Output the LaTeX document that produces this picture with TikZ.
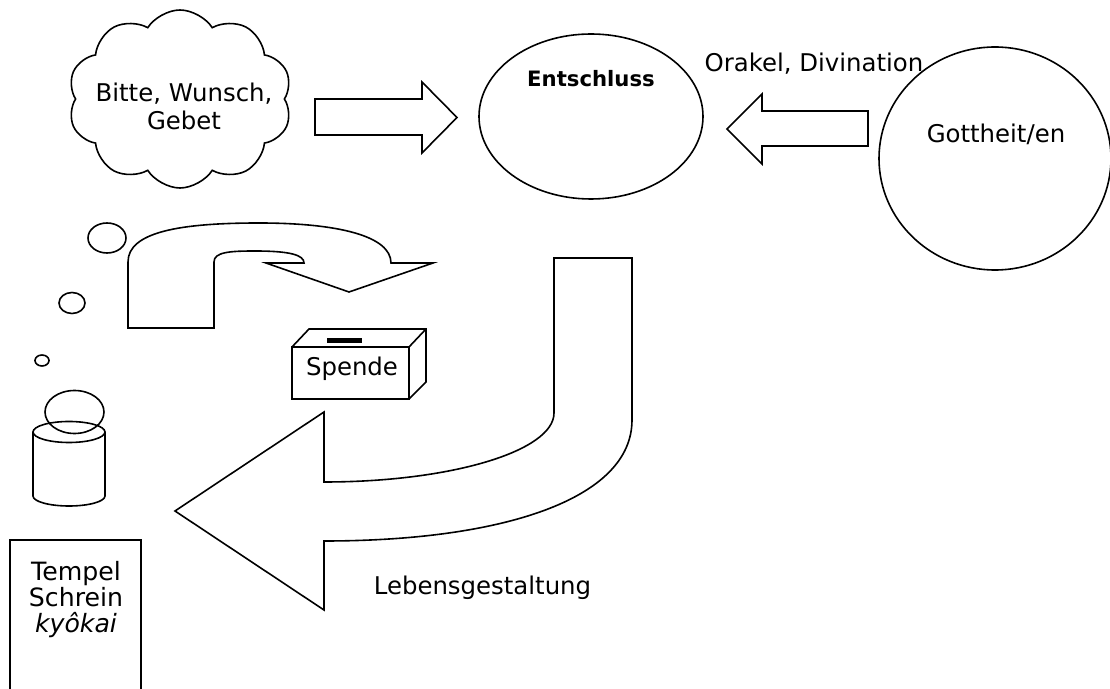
\documentclass[tikz,border=0pt]{standalone}
\usepackage{fontspec}
\setmainfont{DejaVu Sans}
\usepackage{tikz}
\usetikzlibrary{shapes,shapes.symbols,positioning}

\tikzset{
  outline/.style={draw, line width=0.8pt, line join=miter},
  blockarrow/.style={outline},
  txt/.style={inner sep=0pt, anchor=base, font=\fontsize{12.2}{14}\selectfont},
  figure/.style={outline}
}

\begin{document}
\begin{tikzpicture}[x=0.5pt, y=-0.5pt]
\useasboundingbox (0,0) rectangle (1110,689);

% Wolke
\node[cloud, outline, cloud puffs=10, cloud puff arc=115, aspect=1.26,
      minimum width=112pt, minimum height=89pt, inner sep=0pt] (wish) at (180,99) {};
\node[txt, align=center] (wishtext) at (184,130) {Bitte, Wunsch,\\Gebet};

% Entschluss, Gottheit
\node[ellipse, outline, minimum width=112pt, minimum height=82.5pt, inner sep=0pt] (decision) at (591,116.5) {};
\node[txt, font=\fontsize{10.6}{12}\selectfont\bfseries] (decisiontext) at (591,87) {Entschluss};
\node[ellipse, outline, minimum width=116pt, minimum height=111.5pt, inner sep=0pt] (deity) at (995,158.5) {};
\node[txt] (deitytext) at (996,142.7) {Gottheit/en};
\node[txt] (oracle) at (814,71.7) {Orakel, Divination};

\draw[blockarrow] (315,99) -- (422,99) -- (422,82) -- (457,117.5) -- (422,153) -- (422,135) -- (315,135) -- cycle;
\draw[blockarrow] (868,111) -- (762,111) -- (762,94) -- (727,129) -- (762,164) -- (762,146) -- (868,146) -- cycle;

% Opfer-Pfeil
\draw[blockarrow] (128,328) -- (128,262) .. controls (128,232) and (180,223) .. (259,223)
  .. controls (338,223) and (391,236) .. (391,263) -- (433,263) -- (349,292) -- (266,263) -- (304,263)
  .. controls (304,255) and (290,251) .. (255,251) .. controls (230,251) and (214,252) .. (214,262)
  -- (214,328) -- cycle;

% Spendenkasten
\draw[outline] (292,347) rectangle (409,399);
\draw[outline] (292,347) -- (309,329) -- (426,329) -- (426,382) -- (409,399) (409,347) -- (426,329);
\fill (327,338) rectangle (362,343);
\node[txt] (donation) at (352,376) {Spende};

% Lebensgestaltung
\draw[blockarrow] (554,258) -- (632,258) -- (632,420) .. controls (632,500) and (500,541) .. (324,541)
  -- (324,610) -- (175,511) -- (324,412) -- (324,482) .. controls (451,482) and (554,451) .. (554,413) -- cycle;
\node[txt] (life) at (482.5,595) {Lebensgestaltung};

% Mensch mit Gedankenblasen
\draw[figure] (107,238) ellipse [x radius=9.5pt, y radius=7.5pt];
\draw[figure] (72,303) ellipse [x radius=6.5pt, y radius=5.25pt];
\draw[figure] (42,360.5) ellipse [x radius=3.5pt, y radius=2.75pt];
\draw[figure] (74.5,412) ellipse [x radius=14.75pt, y radius=10.75pt];
\draw[figure] (69,432) ellipse [x radius=18pt, y radius=5.25pt];
\draw[figure] (33,432) -- (33,496) arc[start angle=180, end angle=360, x radius=18pt, y radius=5pt] -- (105,432);

% Tempel
\draw[outline] (10,710) |- (141,540) -- (141,710);
\node[txt, align=center, font=\fontsize{12.6}{13.2}\selectfont] (temple) at (76,633) {Tempel\\Schrein\\\textit{kyôkai}};
%\node[txt] at (76,660) {jinja};
\end{tikzpicture}
\end{document}
